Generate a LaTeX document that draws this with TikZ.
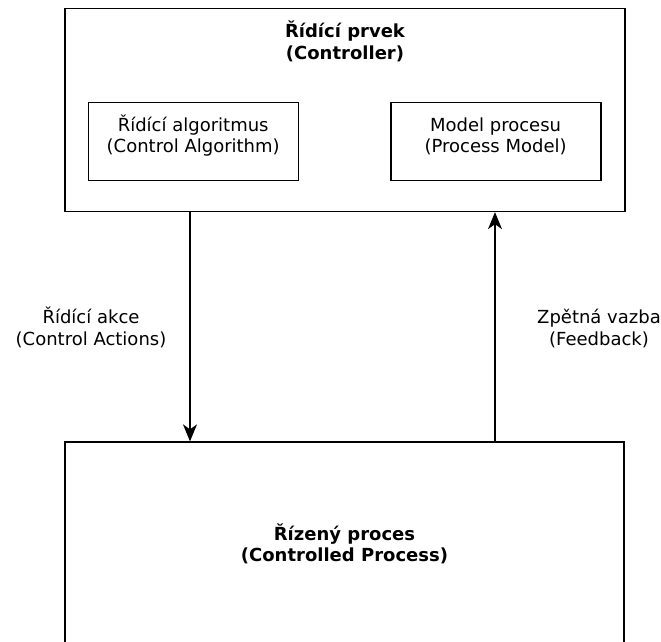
\documentclass[tikz,border=0pt]{standalone}
\usepackage{fontspec}
\setmainfont{DejaVu Sans}
\usetikzlibrary{arrows.meta}
\begin{document}
\begin{tikzpicture}[x=1pt,y=-1pt,
  frame/.style={draw=black, line width=1.3pt, fill=white, inner sep=0pt},
  plain/.style={inner sep=0pt, anchor=base, font=\fontsize{18}{21.5}\selectfont},
  heavy/.style={inner sep=0pt, anchor=base, font=\fontsize{18}{21.5}\selectfont\bfseries},
  flow/.style={line width=1.3pt, -{Stealth[length=17pt,width=14pt,inset=5pt]}}]
  \useasboundingbox (0,0) rectangle (661,641);
  \clip (0,0) rectangle (661,641);

  % controller with its two parts
  \node[frame, minimum width=560pt, minimum height=203pt] (ctrl) at (345,110) {};
  \node[heavy] (ctrlA) at (345,37.5) {Řídící prvek};
  \node[heavy] (ctrlB) at (345,59.5) {(Controller)};

  \node[frame, minimum width=210pt, minimum height=78pt] (alg) at (193.7,141.6) {};
  \node[plain] (algA) at (193.2,131) {Řídící algoritmus};
  \node[plain] (algB) at (193.2,152) {(Control Algorithm)};

  \node[frame, minimum width=210pt, minimum height=78pt] (model) at (496,141.6) {};
  \node[plain] (modelA) at (495.6,131) {Model procesu};
  \node[plain] (modelB) at (495.6,152) {(Process Model)};

  % controlled process
  \node[frame, minimum width=559pt, minimum height=205pt] (proc) at (344.5,544.5) {};
  \node[heavy] (procA) at (344.5,540) {Řízený proces};
  \node[heavy] (procB) at (344.5,561.5) {(Controlled Process)};

  % control loop
  \coordinate (caX) at (190,0);
  \coordinate (fbX) at (495,0);
  \draw[flow] (ctrl.south -| caX) -- (proc.north -| caX);
  \draw[flow] (proc.north -| fbX) -- (ctrl.south -| fbX);

  \node[plain] (caA) at (91,323.5) {Řídící akce};
  \node[plain] (caB) at (91,345) {(Control Actions)};
  \node[plain] (fbA) at (599,323.5) {Zpětná vazba};
  \node[plain] (fbB) at (599,345) {(Feedback)};
\end{tikzpicture}
\end{document}
